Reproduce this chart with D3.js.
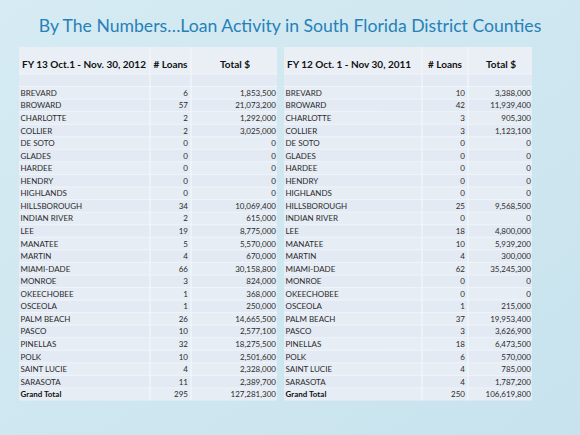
<!DOCTYPE html>
<html>
<head>
<meta charset="utf-8">
<script src="https://cdn.jsdelivr.net/npm/d3@7"></script>
<style>
  html, body { margin: 0; padding: 0; background: #cde6f0; }
  svg { display: block; }
</style>
</head>
<body>
<div id="chart"></div>
<script>
const title = "By The Numbers\u2026Loan Activity in South Florida District Counties"

const counties = ["BREVARD", "BROWARD", "CHARLOTTE", "COLLIER", "DE SOTO", "GLADES", "HARDEE",
  "HENDRY", "HIGHLANDS", "HILLSBOROUGH", "INDIAN RIVER", "LEE", "MANATEE", "MARTIN",
  "MIAMI-DADE", "MONROE", "OKEECHOBEE", "OSCEOLA", "PALM BEACH", "PASCO", "PINELLAS",
  "POLK", "SAINT LUCIE", "SARASOTA"]

const loans2012 = [6, 57, 2, 2, 0, 0, 0, 0, 0, 34, 2, 19, 5, 4, 66, 3, 1, 1, 26, 10, 32, 10, 4, 11]
const totals2012 = [1853500, 21073200, 1292000, 3025000, 0, 0, 0, 0, 0, 10069400, 615000, 8775000,
  5570000, 670000, 30158800, 824000, 368000, 250000, 14665500, 2577100, 18275500, 2501600, 2328000, 2389700]

const loans2011 = [10, 42, 3, 3, 0, 0, 0, 0, 0, 25, 0, 18, 10, 4, 62, 0, 0, 1, 37, 3, 18, 6, 4, 4]
const totals2011 = [3388000, 11939400, 905300, 1123100, 0, 0, 0, 0, 0, 9568500, 0, 4800000,
  5939200, 300000, 35245300, 0, 0, 215000, 19953400, 3626900, 6473500, 570000, 785000, 1787200]

const grandLabel = "Grand Total"
const grand2012 = [295, 127281300]
const grand2011 = [250, 106619800]

const headers2012 = ["FY 13 Oct.1 - Nov. 30, 2012", "# Loans", "Total $"]
const headers2011 = ["FY 12 Oct. 1 - Nov 30, 2011", "# Loans", "Total $"]

const W = 580, H = 435
const font = "Lato, 'Open Sans', sans-serif"
const fmt = d3.format(",")

const svg = d3.select("#chart").append("svg")
  .attr("width", W).attr("height", H)

const defs = svg.append("defs")
const grad = defs.append("linearGradient").attr("id", "bg")
  .attr("x1", 0).attr("y1", 0).attr("x2", 1).attr("y2", 1)
grad.append("stop").attr("offset", "0%").attr("stop-color", "#d6ebf3")
grad.append("stop").attr("offset", "100%").attr("stop-color", "#c8e3ee")
svg.append("rect").attr("width", W).attr("height", H).attr("fill", "url(#bg)")

// titre
const t = svg.append("text")
  .attr("x", W / 2).attr("y", 32)
  .attr("text-anchor", "middle")
  .style("font-family", font)
  .style("font-size", "20px")
  .style("fill", "#2581b8")
  .text(title)
const tw = t.node().getComputedTextLength()
t.style("font-size", (20 * 503 / tw) + "px")

// lignes du tableau
const rowKeys = ["blank", ...counties, grandLabel]
const y = d3.scaleBand().domain(rowKeys).range([74, 400.5]).paddingInner(0)
// la ligne vide est plus haute que les autres
const rowH = (400.5 - 74) / rowKeys.length

function drawTable(g, x0, cols, headers, loans, totals, grand) {
  const x1 = cols[cols.length - 1]
  // en-tête
  g.append("rect").attr("x", x0).attr("y", 47).attr("width", x1 - x0).attr("height", 27)
    .attr("fill", "#eaeff6")
  g.selectAll("rect.row").data(rowKeys).join("rect")
    .attr("class", "row")
    .attr("x", x0).attr("y", d => y(d))
    .attr("width", x1 - x0).attr("height", y.bandwidth())
    .attr("fill", (d, i) => i % 2 ? "#e7edf5" : "#e3eaf3")
  // séparateurs horizontaux
  g.selectAll("line.h").data(rowKeys).join("line")
    .attr("class", "h")
    .attr("x1", x0).attr("x2", x1)
    .attr("y1", d => y(d)).attr("y2", d => y(d))
    .attr("stroke", "#f4f7fb").attr("stroke-width", 0.8)
  // séparateurs verticaux
  g.selectAll("line.v").data(cols.slice(1, -1)).join("line")
    .attr("class", "v")
    .attr("x1", d => d).attr("x2", d => d)
    .attr("y1", 47).attr("y2", 400.5)
    .attr("stroke", "#f4f7fb").attr("stroke-width", 1.2)

  const hy = 68
  g.append("text").attr("x", x0 + 3).attr("y", hy)
    .style("font-weight", "bold").style("font-size", "10px").style("font-family", font)
    .style("fill", "#111").text(headers[0])
  g.append("text").attr("x", (cols[1] + cols[2]) / 2).attr("y", hy).attr("text-anchor", "middle")
    .style("font-weight", "bold").style("font-size", "10px").style("font-family", font)
    .style("fill", "#111").text(headers[1])
  g.append("text").attr("x", (cols[2] + cols[3]) / 2 + 1).attr("y", hy).attr("text-anchor", "middle")
    .style("font-weight", "bold").style("font-size", "10px").style("font-family", font)
    .style("fill", "#111").text(headers[2])

  const rows = counties.map((c, i) => ({ name: c, n: loans[i], v: totals[i], bold: false }))
  rows.push({ name: grandLabel, n: grand[0], v: grand[1], bold: true })

  const cell = g.selectAll("g.cell").data(rows).join("g")
    .attr("class", "cell")
    .attr("transform", d => "translate(0," + (y(d.name) + y.bandwidth() / 2 + 3) + ")")
    .style("font-family", font).style("font-size", "8px").style("fill", "#2b2b2b")

  cell.append("text").attr("x", x0 + 1.5)
    .style("font-weight", d => d.bold ? "bold" : null)
    .style("fill", d => d.bold ? "#111" : null)
    .text(d => d.name)
  cell.append("text").attr("x", cols[2] - 3).attr("text-anchor", "end").text(d => d.n)
  cell.append("text").attr("x", cols[3] - 1).attr("text-anchor", "end").text(d => fmt(d.v))
}

drawTable(svg.append("g"), 19, [19, 150, 191, 277], headers2012, loans2012, totals2012, grand2012)
drawTable(svg.append("g"), 284, [284, 422, 468, 532], headers2011, loans2011, totals2011, grand2011)
</script>
</body>
</html>
